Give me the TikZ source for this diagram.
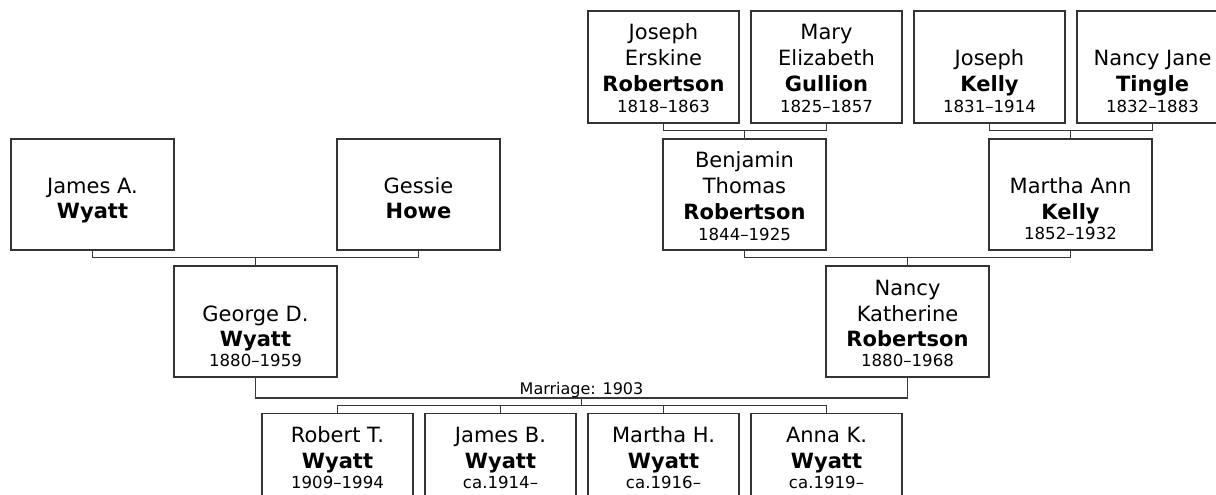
\documentclass[tikz,border=0pt]{standalone}
\usepackage{fontspec}
\setmainfont{DejaVu Sans}
\usetikzlibrary{calc}
\tikzset{
  box/.style={draw=black!80, line width=1.3pt, rectangle, inner sep=0pt, outer sep=0pt, anchor=north west},
  wide/.style={box, minimum width=163pt, minimum height=111pt},
  narrow/.style={box, minimum width=151pt, minimum height=112pt},
  conn/.style={draw=black!78, line width=1.4pt},
  given/.style={font=\fontsize{21}{24}\selectfont, anchor=base, inner sep=0pt},
  surname/.style={font=\fontsize{21}{24}\selectfont\bfseries, anchor=base, inner sep=0pt},
  years/.style={font=\fontsize{16.6}{19}\selectfont, anchor=base, inner sep=0pt},
  marr/.style={font=\fontsize{16}{19}\selectfont, anchor=base, inner sep=0pt},
}
\newcommand\persline[5]{\node[#1] (#2) at ($(#3.north)+(0,#4)$) {#5};}
\begin{document}
\begin{tikzpicture}[x=1pt,y=-1pt]
\useasboundingbox (0,0) rectangle (1216,495);
\fill[white] (0,0) rectangle (1216,495);
\clip (0,0) rectangle (1216,495);

% generation 1 (top row)
\node[narrow] (je) at (588,11) {};
\node[narrow] (mg) at (751,11) {};
\node[narrow] (jk) at (914,11) {};
\node[narrow] (nt) at (1077,11) {};
\persline{given}{je1}{je}{28.5}{Joseph}
\persline{given}{je2}{je}{54.3}{Erskine}
\persline{surname}{je3}{je}{80.5}{Robertson}
\persline{years}{je4}{je}{101.3}{1818–1863}
\persline{given}{mg1}{mg}{28.5}{Mary}
\persline{given}{mg2}{mg}{54.3}{Elizabeth}
\persline{surname}{mg3}{mg}{80.5}{Gullion}
\persline{years}{mg4}{mg}{101.3}{1825–1857}
\persline{given}{jk1}{jk}{54.6}{Joseph}
\persline{surname}{jk2}{jk}{80.5}{Kelly}
\persline{years}{jk3}{jk}{101.3}{1831–1914}
\persline{given}{nt1}{nt}{54.6}{Nancy Jane}
\persline{surname}{nt2}{nt}{80.5}{Tingle}
\persline{years}{nt3}{nt}{101.3}{1832–1883}

% generation 2
\node[wide] (ja) at (11,139) {};
\node[wide] (gh) at (337,139) {};
\node[wide] (bt) at (663,139) {};
\node[wide] (ma) at (989,139) {};
\persline{given}{ja1}{ja}{54.3}{James A.}
\persline{surname}{ja2}{ja}{79.5}{Wyatt}
\persline{given}{gh1}{gh}{54.3}{Gessie}
\persline{surname}{gh2}{gh}{79.5}{Howe}
\persline{given}{bt1}{bt}{28.7}{Benjamin}
\persline{given}{bt2}{bt}{54.3}{Thomas}
\persline{surname}{bt3}{bt}{80.3}{Robertson}
\persline{years}{bt4}{bt}{101}{1844–1925}
\persline{given}{ma1}{ma}{54.3}{Martha Ann}
\persline{surname}{ma2}{ma}{80.3}{Kelly}
\persline{years}{ma3}{ma}{100.5}{1852–1932}

% generation 3
\node[wide] (gd) at (174,266) {};
\node[wide] (nk) at (826,266) {};
\persline{given}{gd1}{gd}{55}{George D.}
\persline{surname}{gd2}{gd}{80}{Wyatt}
\persline{years}{gd3}{gd}{100.7}{1880–1959}
\persline{given}{nk1}{nk}{29}{Nancy}
\persline{given}{nk2}{nk}{55}{Katherine}
\persline{surname}{nk3}{nk}{80}{Robertson}
\persline{years}{nk4}{nk}{100.7}{1880–1968}

% children
\node[narrow] (rt) at (262,413.7) {};
\node[narrow] (jb) at (425,413.7) {};
\node[narrow] (mh) at (588,413.7) {};
\node[narrow] (ak) at (751,413.7) {};
\persline{given}{rt1}{rt}{29}{Robert T.}
\persline{surname}{rt2}{rt}{54.6}{Wyatt}
\persline{years}{rt3}{rt}{74.6}{1909–1994}
\persline{given}{jb1}{jb}{29}{James B.}
\persline{surname}{jb2}{jb}{54.6}{Wyatt}
\persline{years}{jb3}{jb}{74.6}{ca.1914–}
\persline{given}{mh1}{mh}{29}{Martha H.}
\persline{surname}{mh2}{mh}{54.6}{Wyatt}
\persline{years}{mh3}{mh}{74.6}{ca.1916–}
\persline{given}{ak1}{ak}{29}{Anna K.}
\persline{surname}{ak2}{ak}{54.6}{Wyatt}
\persline{years}{ak3}{ak}{74.6}{ca.1919–}

% connectors
\draw[conn] (je.south) -- ++(0,7.7) -| (mg.south);
\draw[conn] (bt.north) -- ++(0,-8.3);
\draw[conn] (jk.south) -- ++(0,7.7) -| (nt.south);
\draw[conn] (ma.north) -- ++(0,-8.3);
\draw[conn] (ja.south) -- ++(0,7.7) -| (gh.south);
\draw[conn] (gd.north) -- ++(0,-8.3);
\draw[conn] (bt.south) -- ++(0,7.7) -| (ma.south);
\draw[conn] (nk.north) -- ++(0,-8.3);
\coordinate (mar) at ($(gd.south)!0.5!(nk.south)+(0,21)$);
\draw[conn] (gd.south) -- ++(0,21) -| (nk.south);
\node[marr] (marlabel) at ($(mar)+(0,-4)$) {Marriage: 1903};
\draw[conn] (mar) -- ++(0,7.7);
\draw[conn] (rt.north) -- ++(0,-8) -| (ak.north);
\draw[conn] (jb.north) -- ++(0,-8);
\draw[conn] (mh.north) -- ++(0,-8);
\end{tikzpicture}
\end{document}
